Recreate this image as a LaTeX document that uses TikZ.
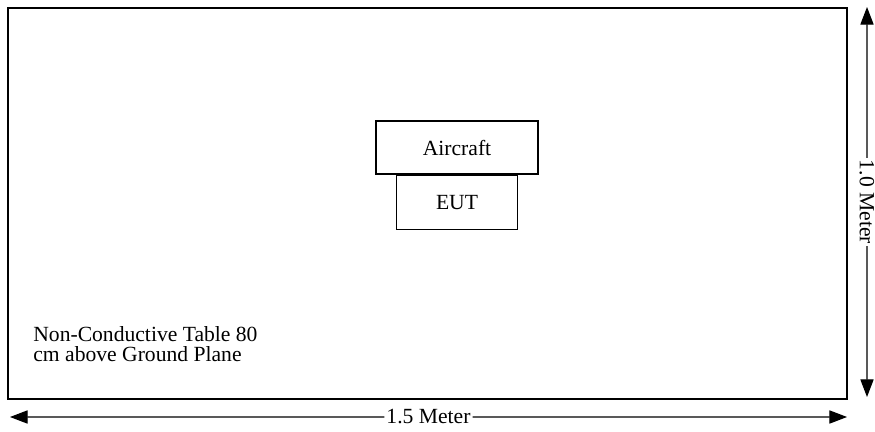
\documentclass[tikz,border=0pt]{standalone}
\usepackage{fontspec}
\setmainfont{Liberation Serif}
\usetikzlibrary{positioning,arrows.meta,calc}
\tikzset{
  box/.style={draw,line width=0.6pt,inner sep=0pt},
  dimarrow/.style={line width=0.6pt,-{Triangle[length=10pt,width=7.5pt]}},
  dimlabel/.style={inner xsep=1pt,inner ysep=0pt,font=\fontsize{12.3}{11}\selectfont}
}
\begin{document}
\begin{tikzpicture}[x=0.02cm,y=-0.02cm]
          \useasboundingbox (0,0) rectangle (875,432);
          \node[draw,line width=1.3pt,minimum width=16.78cm,minimum height=7.82cm,inner sep=0pt]
          (table) at (427.5,203.5) {};
          \node[box,minimum width=3.24cm,minimum height=1.06cm,font=\fontsize{12.3}{11}\selectfont]
          (aircraft) at (457,147.5) {Aircraft};
          \node[box,minimum width=2.42cm,minimum height=1.08cm,font=\fontsize{12.3}{11}\selectfont,
          below=0pt of aircraft] (eut) {EUT};
          \node[anchor=north west,inner sep=0pt,align=left,font=\fontsize{12.3}{11.4}\selectfont]
          (note) at (33,326) {Non-Conductive Table 80\\cm above Ground Plane};
          % dimension arrows
          \coordinate (hleft) at (10,417);
          \coordinate (hright) at (847,417);
          \coordinate (vtop) at (867,7);
          \coordinate (vbottom) at (867,397);
          \node[dimlabel] (width) at ($(hleft)!0.5!(hright)$) {1.5 Meter};
          \node[dimlabel,rotate=-90] (height) at ($(vtop)!0.5!(vbottom)$) {1.0 Meter};
          \draw[dimarrow] (width) -- (hleft);
          \draw[dimarrow] (width) -- (hright);
          \draw[dimarrow] (height) -- (vtop);
          \draw[dimarrow] (height) -- (vbottom);
\end{tikzpicture}
\end{document}
